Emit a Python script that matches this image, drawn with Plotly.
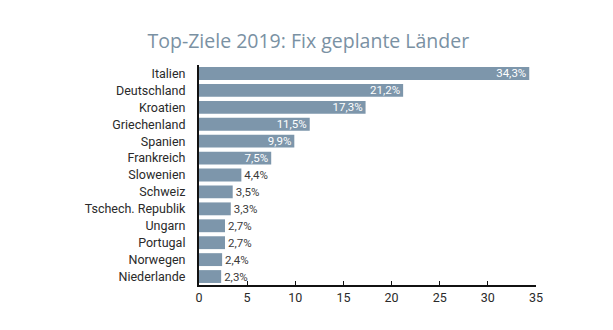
import plotly.graph_objects as go

countries = ["Italien", "Deutschland", "Kroatien", "Griechenland", "Spanien", "Frankreich",
             "Slowenien", "Schweiz", "Tschech. Republik", "Ungarn", "Portugal", "Norwegen", "Niederlande"]
values = [34.3, 21.2, 17.3, 11.5, 9.9, 7.5, 4.4, 3.5, 3.3, 2.7, 2.7, 2.4, 2.3]
labels = [f"{v:.1f}%".replace(".", ",") for v in values]
x_ticks = [0, 5, 10, 15, 20, 25, 30, 35]

inside = [v >= 7 for v in values]
positions = ["inside" if i else "outside" for i in inside]
text_colors = ["white" if i else "#3a3a3a" for i in inside]

fig = go.Figure(go.Bar(
    y=countries, x=values, orientation="h",
    marker=dict(color="#7d96ab", line=dict(width=0)),
    text=labels, textposition=positions, insidetextanchor="end",
    textfont=dict(color=text_colors, size=11.5, family="Roboto"),
    constraintext="none",
    cliponaxis=False, width=0.76,
))

fig.update_layout(
    width=613, height=330,
    margin=dict(l=199, r=77, t=65, b=45),
    paper_bgcolor="white", plot_bgcolor="white",
    title=dict(text="Top-Ziele 2019: Fix geplante Länder", x=0.503, xref="container",
               xanchor="center", y=0.875, yanchor="middle",
               font=dict(family="Open Sans", size=19.5, color="#7a91a3")),
    font=dict(family="Roboto", size=12, color="#2a2a2a"),
    showlegend=False,
    uniformtext=dict(mode="show", minsize=11.5),
)
fig.update_xaxes(range=[0, 35], tickvals=x_ticks, showgrid=False, zeroline=False,
                 showline=True, linecolor="#111111", linewidth=1.5,
                 ticks="inside", ticklen=4, tickcolor="#111111",
                 tickfont=dict(size=12.5, color="#2a2a2a"))
fig.update_yaxes(categoryorder="array", categoryarray=countries[::-1],
                 showgrid=False, zeroline=False, showline=True, linecolor="#111111",
                 linewidth=1.5, ticks="", ticksuffix="   ",
                 tickfont=dict(size=12.5, color="#2a2a2a"))

fig.write_html("out.html")
